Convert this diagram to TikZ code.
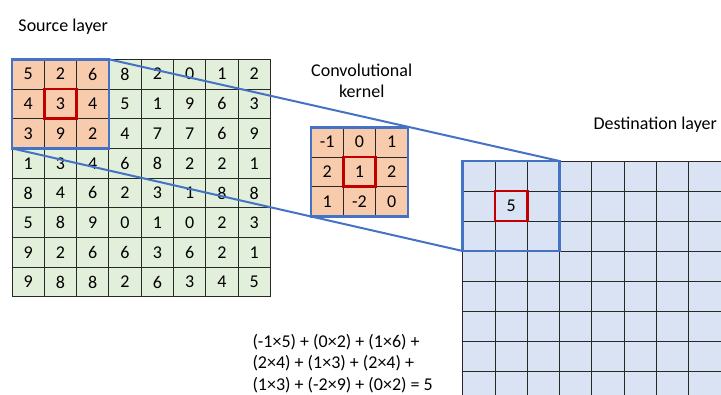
\documentclass[tikz,border=0pt]{standalone}
\usepackage{fontspec}
\setmainfont{Carlito}

\definecolor{srcgreen}{RGB}{226,239,218}
\definecolor{kernorange}{RGB}{248,203,173}
\definecolor{dstblue}{RGB}{218,227,243}
\definecolor{boxblue}{RGB}{68,114,196}
\definecolor{boxred}{RGB}{192,0,0}
\definecolor{gridgray}{RGB}{40,40,40}

\tikzset{every picture/.style={line width=0.75pt}}
\tikzset{
  cellnum/.style={inner sep=0.75pt, font=\fontsize{13.5}{16}\selectfont},
  labeltext/.style={inner sep=0.75pt, font=\fontsize{13.5}{16.2}\selectfont},
  gridline/.style={draw=gridgray, line width=0.75pt},
  bluebox/.style={draw=boxblue, line width=2pt},
  redbox/.style={draw=boxred, line width=2pt},
  connector/.style={draw=boxblue, line width=1.5pt},
}

\begin{document}
\begin{tikzpicture}[x=0.75pt,y=0.75pt,yscale=-1,xscale=1]
\useasboundingbox (0,0) rectangle (721,394);

%Shape: Source layer grid
\fill [srcgreen] (12,59.3) rectangle (270.4,296.9);
\fill [kernorange] (12,59.3) rectangle (108.9,148.4);
\foreach \k in {0,...,8} {
  \draw [gridline] ({12+32.3*\k},59.3) -- ({12+32.3*\k},296.9);
  \draw [gridline] (12,{59.3+29.7*\k}) -- (270.4,{59.3+29.7*\k});
}
\foreach \row [count=\r from 0] in {{5,2,6,8,2,0,1,2},{4,3,4,5,1,9,6,3},{3,9,2,4,7,7,6,9},{1,3,4,6,8,2,2,1},{8,4,6,2,3,1,8,8},{5,8,9,0,1,0,2,3},{9,2,6,6,3,6,2,1},{9,8,8,2,6,3,4,5}} {
  \foreach \v [count=\c from 0] in \row {
    \node [cellnum] (s-\r-\c) at ({28.15+32.3*\c},{74.15+29.7*\r}) {\v};
  }
}
\draw [bluebox] (12,59.3) rectangle (108.9,148.4);
\draw [redbox] (44.3,89) rectangle (76.6,118.7);

%Shape: Destination layer grid
\begin{scope}
\clip (0,0) rectangle (721,394);
\fill [dstblue] (462.7,161) rectangle (725,400);
\foreach \k in {0,...,8} {
  \draw [gridline] ({462.7+32.3*\k},161) -- ({462.7+32.3*\k},400);
  \draw [gridline] (462.7,{161+30*\k}) -- (725,{161+30*\k});
}
\end{scope}
\node [cellnum] (d-1-1) at (511.15,206) {5};
\draw [bluebox] (462.7,161) rectangle (559.6,251);
\draw [redbox] (495,191) rectangle (527.3,221);

%Straight Lines: source window to destination window
\coordinate (srcNE) at (108.9,59.3);
\coordinate (srcSW) at (12,148.4);
\coordinate (dstNE) at (559.6,161);
\coordinate (dstSW) at (462.7,251);
\draw [connector] (srcNE) -- (dstNE);
\draw [connector] (srcSW) -- (dstSW);

%Shape: Convolutional kernel
\fill [kernorange] (311,127.3) rectangle (407.9,216.4);
\foreach \k in {0,...,3} {
  \draw [gridline] ({311+32.3*\k},127.3) -- ({311+32.3*\k},216.4);
  \draw [gridline] (311,{127.3+29.7*\k}) -- (407.9,{127.3+29.7*\k});
}
\foreach \row [count=\r from 0] in {{-1,0,1},{2,1,2},{1,-2,0}} {
  \foreach \v [count=\c from 0] in \row {
    \node [cellnum] (k-\r-\c) at ({327.15+32.3*\c},{142.15+29.7*\r}) {\v};
  }
}
\draw [bluebox] (311,127.3) rectangle (407.9,216.4);
\draw [redbox] (343.3,157) rectangle (375.6,186.7);

% Text Node
\node [labeltext, anchor=west] (srclabel) at (17,27) {Source layer};
% Text Node
\node [labeltext, align=center] (kernlabel) at (361.7,81) {Convolutional\\kernel};
% Text Node
\node [labeltext, anchor=west] (dstlabel) at (592,125) {Destination layer};
% Text Node
\node [labeltext, anchor=west, align=left] (formula) at (251,363.5) {(-1×5) + (0×2) + (1×6) +\\(2×4) + (1×3) + (2×4) +\\(1×3) + (-2×9) + (0×2) = 5};

\end{tikzpicture}
\end{document}
